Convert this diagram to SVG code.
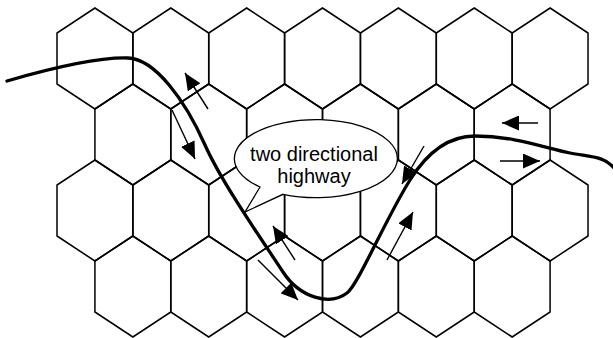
<svg xmlns="http://www.w3.org/2000/svg" xmlns:xlink="http://www.w3.org/1999/xlink" width="613" height="338" viewBox="0 0 613 338">
  <style>
    .cell { fill: none; stroke: #000; stroke-width: 1.5; stroke-linejoin: miter; }
    .lane { fill: none; stroke: #000; stroke-width: 1.4; marker-end: url(#head); }
    .road { fill: none; stroke: #000; stroke-width: 3.3; stroke-linecap: round; stroke-linejoin: round; }
    .bubble { fill: #fff; stroke: #000; stroke-width: 1.3; stroke-linejoin: miter; }
    .label { font-family: "Liberation Sans", Arial, sans-serif; font-size: 20px; fill: #000; text-anchor: middle; }
  </style>
  <defs>
    <!-- pointy-top cell, centred on the origin -->
    <polygon id="hex" points="0,-50.5 37.93,-25.5 37.93,25.5 0,50.5 -37.93,25.5 -37.93,-25.5"/>
    <marker id="head" viewBox="0 0 17 15" refX="17" refY="7.5" markerWidth="17" markerHeight="15" markerUnits="userSpaceOnUse" orient="auto">
      <path d="M0,0 L17,7.5 L0,15 Z" fill="#000"/>
    </marker>
  </defs>

  <!-- cellular grid: rows 1 and 3 hold seven cells, rows 2 and 4 hold six -->
  <g id="grid" class="cell">
    <g id="row1">
      <use xlink:href="#hex" x="94.93" y="58.5"/>
      <use xlink:href="#hex" x="170.79" y="58.5"/>
      <use xlink:href="#hex" x="246.65" y="58.5"/>
      <use xlink:href="#hex" x="322.51" y="58.5"/>
      <use xlink:href="#hex" x="398.37" y="58.5"/>
      <use xlink:href="#hex" x="474.23" y="58.5"/>
      <use xlink:href="#hex" x="550.09" y="58.5"/>
    </g>
    <g id="row2">
      <use xlink:href="#hex" x="132.86" y="134.5"/>
      <use xlink:href="#hex" x="208.72" y="134.5"/>
      <use xlink:href="#hex" x="284.58" y="134.5"/>
      <use xlink:href="#hex" x="360.44" y="134.5"/>
      <use xlink:href="#hex" x="436.3" y="134.5"/>
      <use xlink:href="#hex" x="512.16" y="134.5"/>
    </g>
    <g id="row3">
      <use xlink:href="#hex" x="94.93" y="210.5"/>
      <use xlink:href="#hex" x="170.79" y="210.5"/>
      <use xlink:href="#hex" x="246.65" y="210.5"/>
      <use xlink:href="#hex" x="322.51" y="210.5"/>
      <use xlink:href="#hex" x="398.37" y="210.5"/>
      <use xlink:href="#hex" x="474.23" y="210.5"/>
      <use xlink:href="#hex" x="550.09" y="210.5"/>
    </g>
    <g id="row4">
      <use xlink:href="#hex" x="132.86" y="286.5"/>
      <use xlink:href="#hex" x="208.72" y="286.5"/>
      <use xlink:href="#hex" x="284.58" y="286.5"/>
      <use xlink:href="#hex" x="360.44" y="286.5"/>
      <use xlink:href="#hex" x="436.3" y="286.5"/>
      <use xlink:href="#hex" x="512.16" y="286.5"/>
    </g>
  </g>

  <!-- callout with its pointer -->
  <g id="callout">
    <path class="bubble" d="M260,187 L245,212 L283,194.3 A81.5 39 0 1 0 260,187 Z"/>
    <text class="label" x="314" y="161">two directional</text>
    <text class="label" x="314" y="183">highway</text>
  </g>

  <!-- traffic directions on either side of the road -->
  <g id="connectors">
    <line class="lane" x1="208" y1="109" x2="185" y2="73"/>
    <line class="lane" x1="172" y1="110" x2="195" y2="159"/>
    <line class="lane" x1="295" y1="260" x2="273" y2="226"/>
    <line class="lane" x1="258" y1="260" x2="298" y2="300"/>
    <line class="lane" x1="387" y1="260" x2="413" y2="212"/>
    <line class="lane" x1="424" y1="146" x2="402" y2="184"/>
    <line class="lane" x1="538" y1="123" x2="502" y2="123"/>
    <line class="lane" x1="500" y1="161" x2="540" y2="161"/>
  </g>

  <!-- the highway itself -->
  <g id="highway">
    <path class="road" d="M7,81 C45,70 95,57 128,58 C155,59 185,100 205,145 C222,183 262,240 283,272 C300,298 330,306 347,293 C358,285 385,220 410,180 C425,156 445,136 475,136 C515,136 545,148 570,153 C590,157 604,156 614,168"/>
  </g>
</svg>
